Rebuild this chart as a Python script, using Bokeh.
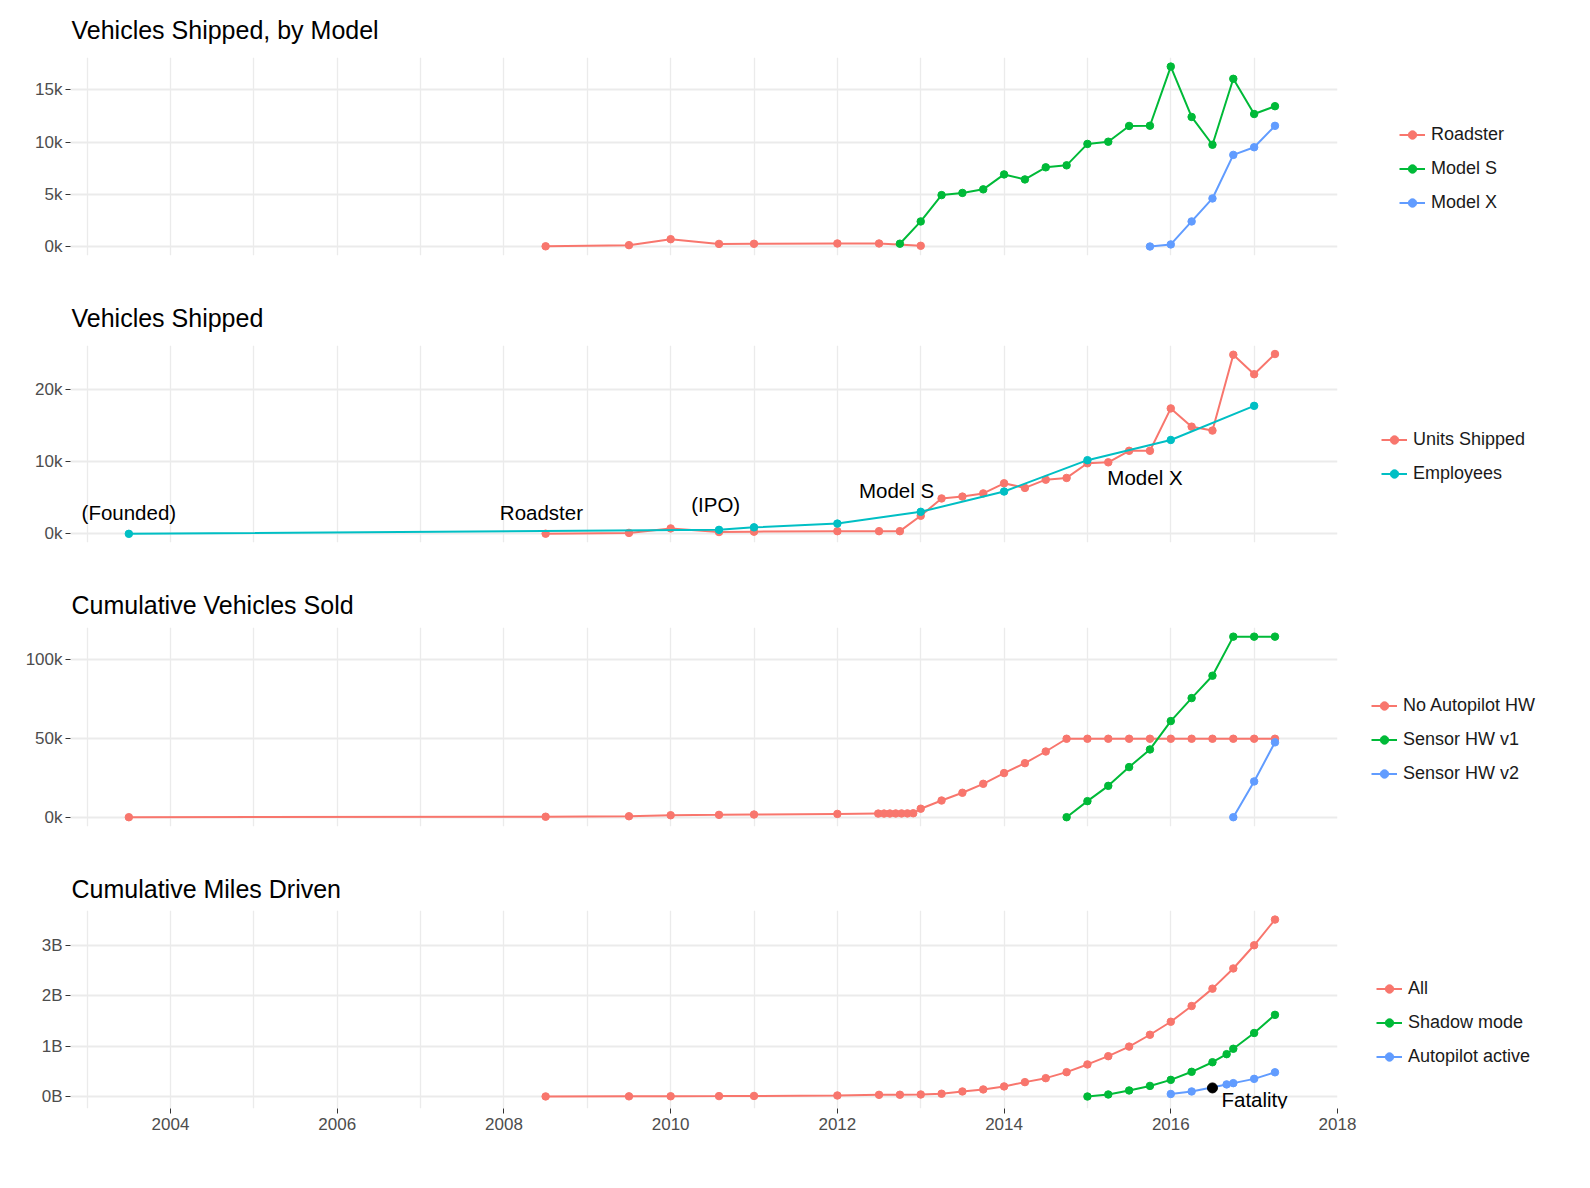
from bokeh.plotting import figure
from bokeh.models import Range1d, FixedTicker, Legend, LegendItem, ColumnDataSource
from bokeh.layouts import column
from bokeh.core.properties import value
from bokeh.embed import file_html
from bokeh.resources import INLINE

# ---------------- data (x = decimal year) ----------------
# Panel 1: Vehicles Shipped, by Model (thousands)
roadster_year = [2008.5, 2009.5, 2010.0, 2010.58, 2011.0, 2012.0, 2012.5, 2013.0]
roadster_k = [0.02, 0.13, 0.7, 0.25, 0.26, 0.29, 0.29, 0.07]
model_s_year = [2012.75, 2013.0, 2013.25, 2013.5, 2013.75, 2014.0, 2014.25, 2014.5, 2014.75,
                2015.0, 2015.25, 2015.5, 2015.75, 2016.0, 2016.25, 2016.5, 2016.75, 2017.0, 2017.25]
model_s_k = [0.27, 2.4, 4.92, 5.13, 5.47, 6.9, 6.42, 7.58, 7.77,
             9.82, 10.03, 11.54, 11.56, 17.22, 12.4, 9.74, 16.05, 12.68, 13.43]
model_x_year = [2015.75, 2016.0, 2016.25, 2016.5, 2016.75, 2017.0, 2017.25]
model_x_k = [0.0, 0.2, 2.4, 4.6, 8.77, 9.5, 11.55]

# Panel 2: Vehicles Shipped (thousands) and Employees (thousands)
units_year = [2008.5, 2009.5, 2010.0, 2010.58, 2011.0, 2012.0, 2012.5, 2012.75, 2013.0, 2013.25,
              2013.5, 2013.75, 2014.0, 2014.25, 2014.5, 2014.75, 2015.0, 2015.25, 2015.5,
              2015.75, 2016.0, 2016.25, 2016.5, 2016.75, 2017.0, 2017.25]
units_k = [0.02, 0.13, 0.75, 0.25, 0.3, 0.37, 0.37, 0.37, 2.5, 4.9,
           5.16, 5.6, 7.0, 6.36, 7.5, 7.74, 9.77, 9.9, 11.5,
           11.5, 17.37, 14.84, 14.3, 24.8, 22.1, 24.9]
employees_year = [2003.5, 2010.58, 2011.0, 2012.0, 2013.0, 2014.0, 2015.0, 2016.0, 2017.0]
employees_k = [0.0, 0.55, 0.9, 1.42, 3.05, 5.86, 10.2, 13.0, 17.72]
event_labels = ["(Founded)", "Roadster", "(IPO)", "Model S", "Model X"]
event_year = [2003.5, 2008.45, 2010.54, 2012.71, 2015.69]
event_k = [3.0, 3.0, 4.1, 6.0, 7.8]

# Panel 3: Cumulative Vehicles Sold (thousands)
no_ap_year = [2003.5, 2008.5, 2009.5, 2010.0, 2010.58, 2011.0, 2012.0,
              2012.49, 2012.56, 2012.63, 2012.70, 2012.77, 2012.84, 2012.91,
              2013.0, 2013.25, 2013.5, 2013.75, 2014.0, 2014.25, 2014.5, 2014.75,
              2015.0, 2015.25, 2015.5, 2015.75, 2016.0, 2016.25, 2016.5, 2016.75, 2017.0, 2017.25]
no_ap_k = [0.0, 0.3, 0.6, 1.25, 1.48, 1.7, 2.1,
           2.3, 2.32, 2.35, 2.38, 2.4, 2.43, 2.5,
           5.4, 10.6, 15.5, 21.2, 28.0, 34.3, 41.7, 49.8,
           49.8, 49.8, 49.8, 49.8, 49.8, 49.8, 49.8, 49.8, 49.8, 49.8]
sensor_v1_year = [2014.75, 2015.0, 2015.25, 2015.5, 2015.75, 2016.0, 2016.25, 2016.5, 2016.75, 2017.0, 2017.25]
sensor_v1_k = [0.0, 10.2, 19.9, 31.8, 43.0, 61.0, 75.6, 89.8, 114.6, 114.6, 114.6]
sensor_v2_year = [2016.75, 2017.0, 2017.25]
sensor_v2_k = [0.0, 22.7, 47.5]

# Panel 4: Cumulative Miles Driven (billions)
all_year = [2008.5, 2009.5, 2010.0, 2010.58, 2011.0, 2012.0, 2012.5, 2012.75, 2013.0, 2013.25,
            2013.5, 2013.75, 2014.0, 2014.25, 2014.5, 2014.75, 2015.0, 2015.25, 2015.5,
            2015.75, 2016.0, 2016.25, 2016.5, 2016.75, 2017.0, 2017.25]
all_b = [0.001, 0.003, 0.005, 0.008, 0.011, 0.02, 0.033, 0.035, 0.04, 0.055,
         0.1, 0.14, 0.2, 0.285, 0.364, 0.483, 0.636, 0.8, 0.99,
         1.225, 1.483, 1.795, 2.14, 2.54, 3.0, 3.51]
shadow_year = [2015.0, 2015.25, 2015.5, 2015.75, 2016.0, 2016.25, 2016.5, 2016.67, 2016.75, 2017.0, 2017.25]
shadow_b = [0.0, 0.04, 0.12, 0.21, 0.33, 0.49, 0.68, 0.84, 0.947, 1.26, 1.62]
autopilot_year = [2016.0, 2016.25, 2016.67, 2016.75, 2017.0, 2017.25]
autopilot_b = [0.05, 0.1, 0.24, 0.265, 0.35, 0.48]
fatality_year = [2016.5]
fatality_b = [0.17]
fatality_label = ["Fatality"]

x_tick_years = [2004, 2006, 2008, 2010, 2012, 2014, 2016, 2018]

# ---------------- styling ----------------
RED, GREEN, BLUE, TEAL = "#F8766D", "#00BA38", "#619CFF", "#00BFC4"
FONT = "Liberation Sans"
GRID = "#EBEBEB"


def make_panel(title, y0, y1, yticks, ylabels, frame_h, border_t, border_b,
               title_standoff, show_x=False):
    p = figure(frame_width=1267, frame_height=frame_h,
               x_range=Range1d(2002.8, 2018.0), y_range=Range1d(y0, y1),
               output_backend="svg", toolbar_location=None,
               min_border_left=70, min_border_right=240,
               min_border_top=border_t, min_border_bottom=border_b)
    p.outline_line_color = None
    p.background_fill_color = "white"
    p.border_fill_color = "white"
    p.title.text = title
    p.title.text_font = FONT
    p.title.text_font_size = "25px"
    p.title.text_font_style = "normal"
    p.title.text_color = "#000000"
    p.title.text_line_height = 1.0
    p.title.align = "left"
    p.title.standoff = title_standoff
    p.title.offset = 1

    p.xgrid.ticker = FixedTicker(ticks=list(range(2003, 2019)))
    p.xgrid.grid_line_color = GRID
    p.xgrid.grid_line_width = 1.3
    p.yaxis.ticker = FixedTicker(ticks=yticks)
    p.ygrid.grid_line_color = GRID
    p.ygrid.grid_line_width = 2

    p.yaxis.major_label_overrides = {t: l for t, l in zip(yticks, ylabels)}
    p.yaxis.axis_line_color = None
    p.yaxis.major_tick_line_color = "#333333"
    p.yaxis.major_tick_out = 5
    p.yaxis.major_tick_in = 0
    p.yaxis.minor_tick_line_color = None
    p.yaxis.major_label_standoff = 3
    p.yaxis.major_label_text_font = FONT
    p.yaxis.major_label_text_font_size = "17px"
    p.yaxis.major_label_text_color = "#4D4D4D"

    if show_x:
        p.xaxis.ticker = FixedTicker(ticks=x_tick_years)
        p.xaxis.axis_line_color = None
        p.xaxis.major_tick_line_color = "#333333"
        p.xaxis.major_tick_out = 5
        p.xaxis.major_tick_in = 0
        p.xaxis.minor_tick_line_color = None
        p.xaxis.major_label_standoff = 4
        p.xaxis.major_label_text_font = FONT
        p.xaxis.major_label_text_font_size = "17px"
        p.xaxis.major_label_text_color = "#4D4D4D"
    else:
        p.xaxis.visible = False
    return p


def add_series(p, xs, ys, color, label, items):
    src = ColumnDataSource(dict(x=xs, y=ys))
    ln = p.line("x", "y", source=src, line_color=color, line_width=2)
    sc = p.scatter("x", "y", source=src, size=7.5, fill_color=color, line_color=color)
    items.append(LegendItem(label=label, renderers=[ln, sc]))


def add_legend(p, items, loc):
    lg = Legend(items=items, location=loc, orientation="vertical",
                glyph_width=26, glyph_height=21, label_height=21, spacing=13,
                padding=0, margin=0, label_standoff=6,
                label_text_font=FONT, label_text_font_size="18px",
                label_text_color="#1A1A1A",
                background_fill_alpha=0, border_line_color=None)
    p.add_layout(lg, "right")


# Panel 1
p1 = make_panel("Vehicles Shipped, by Model", -0.86, 18.09, [0, 5, 10, 15],
                ["0k", "5k", "10k", "15k"], 198, 57, 33, 27)
it1 = []
add_series(p1, roadster_year, roadster_k, RED, "Roadster", it1)
add_series(p1, model_s_year, model_s_k, GREEN, "Model S", it1)
add_series(p1, model_x_year, model_x_k, BLUE, "Model X", it1)
add_legend(p1, it1, (62, 42))

# Panel 2
p2 = make_panel("Vehicles Shipped", -1.2, 26.08, [0, 10, 20],
                ["0k", "10k", "20k"], 197, 57, 35, 27)
it2 = []
add_series(p2, units_year, units_k, RED, "Units Shipped", it2)
add_series(p2, employees_year, employees_k, TEAL, "Employees", it2)
p2.text(x="x", y="y", text="t",
        source=ColumnDataSource(dict(x=event_year, y=event_k, t=event_labels)),
        text_font=value(FONT), text_font_size=value("20.5px"), text_color="#000000",
        text_align="center", text_baseline="middle")
add_legend(p2, it2, (44, 58))

# Panel 3
p3 = make_panel("Cumulative Vehicles Sold", -5.9, 120.4, [0, 50, 100],
                ["0k", "50k", "100k"], 199, 50, 34, 17)
it3 = []
add_series(p3, no_ap_year, no_ap_k, RED, "No Autopilot HW", it3)
add_series(p3, sensor_v1_year, sensor_v1_k, GREEN, "Sensor HW v1", it3)
add_series(p3, sensor_v2_year, sensor_v2_k, BLUE, "Sensor HW v2", it3)
add_legend(p3, it3, (34, 42))

# Panel 4
p4 = make_panel("Cumulative Miles Driven", -0.238, 3.69, [0, 1, 2, 3],
                ["0B", "1B", "2B", "3B"], 198, 50, 50, 16, show_x=True)
it4 = []
add_series(p4, all_year, all_b, RED, "All", it4)
add_series(p4, shadow_year, shadow_b, GREEN, "Shadow mode", it4)
add_series(p4, autopilot_year, autopilot_b, BLUE, "Autopilot active", it4)
fsrc = ColumnDataSource(dict(x=fatality_year, y=fatality_b, t=fatality_label))
p4.scatter("x", "y", source=fsrc, size=10, fill_color="black", line_color="black")
p4.text(x="x", y="y", text="t", source=fsrc, x_offset=9, y_offset=0,
        text_font=value(FONT), text_font_size=value("20.5px"), text_color="#000000",
        text_align="left", text_baseline="top")
add_legend(p4, it4, (39, 41))

layout = column(p1, p2, p3, p4, spacing=0)
open("out.html", "w").write(file_html(layout, INLINE))
